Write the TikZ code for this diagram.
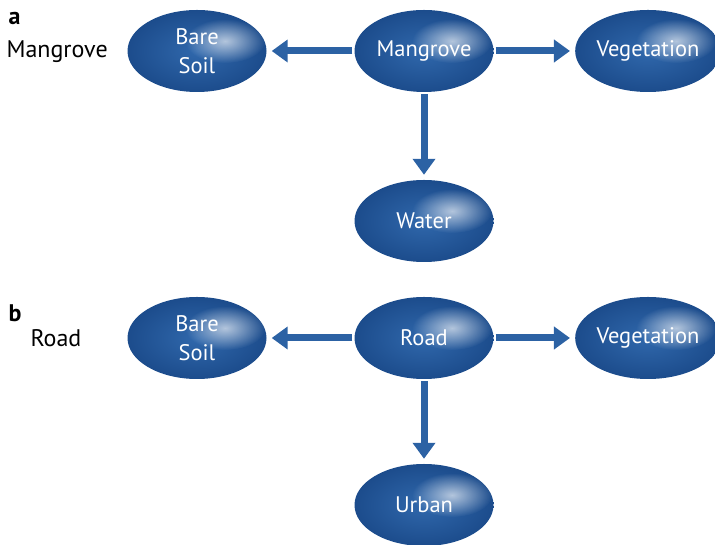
\documentclass[tikz,border=0pt]{standalone}
\usepackage{fontspec}
\setmainfont{PT Sans}
\usepackage{xcolor}
\usetikzlibrary{shapes.geometric,arrows.meta,fadings}

\definecolor{blobdark}{RGB}{28,76,140}
\definecolor{blobmid}{RGB}{48,104,172}
\definecolor{arrowblue}{RGB}{44,98,164}
\tikzfading[name=glossfade, inner color=transparent!35, outer color=transparent!100]

\tikzset{
  blob/.style={ellipse, minimum width=139pt, minimum height=82pt, inner sep=0pt,
    inner color=blobmid, outer color=blobdark, text=white, font=\fontsize{22.5}{29}\selectfont,
    align=center},
  flow/.style={draw=arrowblue, line width=7pt, -{Triangle[width=22pt,length=16pt]},
    shorten >=5pt, shorten <=2pt},
  tag/.style={anchor=west, font=\fontsize{24}{26}\selectfont}
}
\newcommand{\gloss}[1]{\fill[white, path fading=glossfade] ([shift={(28pt,10pt)}]#1.center) ellipse (40pt and 22pt);}

\begin{document}
\begin{tikzpicture}[x=1pt, y=1pt]
\useasboundingbox (0,0) rectangle (715,545);

% panel a
\node[tag, font=\fontsize{24}{26}\selectfont\bfseries] (taga) at (5,527) {a};
\node[tag] (labela) at (3,493) {Mangrove};
\node[blob] (bare1) at (197,494) {Bare\\Soil};
\node[blob] (mang) at (424,494) {Mangrove};
\node[blob] (veg1) at (648,494) {Vegetation};
\node[blob] (water) at (424,324) {Water};
\foreach \n in {bare1,mang,veg1,water} {\gloss{\n}}
\draw[flow] (mang) -- (bare1);
\draw[flow] (mang) -- (veg1);
\draw[flow] (mang) -- (water);

% panel b
\node[tag, font=\fontsize{24}{26}\selectfont\bfseries] (tagb) at (5,232) {b};
\node[tag] (labelb) at (27,207) {Road};
\node[blob] (bare2) at (197,207) {Bare\\Soil};
\node[blob] (road) at (424,207) {Road};
\node[blob] (veg2) at (648,207) {Vegetation};
\node[blob] (urban) at (424,40) {Urban};
\foreach \n in {bare2,road,veg2,urban} {\gloss{\n}}
\draw[flow] (road) -- (bare2);
\draw[flow] (road) -- (veg2);
\draw[flow] (road) -- (urban);
\end{tikzpicture}
\end{document}
